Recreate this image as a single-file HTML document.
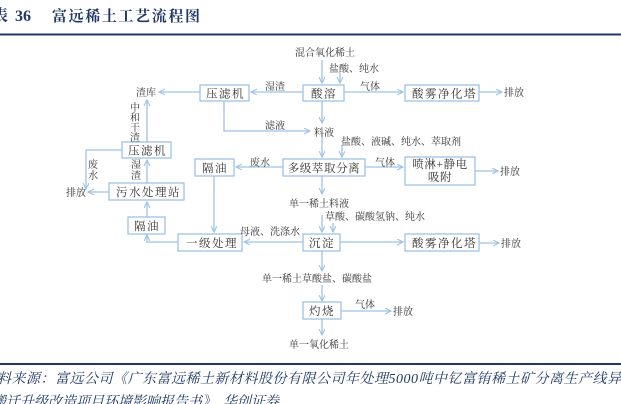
<!DOCTYPE html>
<html><head><meta charset="utf-8"><style>
html,body{margin:0;padding:0;background:#fff;}
svg{display:block;}
.t{font-family:"Liberation Serif","Noto Serif CJK SC",serif;font-size:10px;fill:#333;}
.b{font-family:"Liberation Serif","Noto Serif CJK SC",serif;font-size:11.5px;fill:#333;letter-spacing:1.5px;}
.bn{font-family:"Liberation Serif","Noto Serif CJK SC",serif;font-size:11.5px;fill:#333;letter-spacing:0.6px;}
rect{fill:#fff;stroke:#9dc3e6;stroke-width:1.3;}
.l{stroke:#9dc3e6;stroke-width:1.3;fill:none;}
</style></head><body>
<svg width="621" height="404" viewBox="0 0 621 404" xmlns="http://www.w3.org/2000/svg">
<defs><marker id="a" markerWidth="8" markerHeight="8" refX="6" refY="3" orient="auto" markerUnits="userSpaceOnUse"><path d="M0,0 L6,3 L0,6" fill="none" stroke="#9dc3e6" stroke-width="1.1"/></marker></defs>
<text x="-8" y="21" style="font-family:'Liberation Serif','Noto Serif CJK SC',serif;font-size:16px;font-weight:bold;fill:#1f3864">表</text>
<text x="15" y="21" style="font-family:'Liberation Serif',serif;font-size:16px;font-weight:bold;fill:#1f3864">36</text>
<text x="52" y="21" textLength="148" style="font-family:'Liberation Serif','Noto Serif CJK SC',serif;font-size:15px;font-weight:bold;fill:#1f3864">富远稀土工艺流程图</text>
<line x1="0" y1="34.5" x2="621" y2="34.5" stroke="#1f3864" stroke-width="2"/>
<line x1="0" y1="364" x2="621" y2="364" stroke="#1f3864" stroke-width="2"/>
<text x="-3" y="383" textLength="624" style="font-family:'Liberation Serif','Noto Serif CJK SC',serif;font-size:14px;font-style:italic;fill:#1f3864">料来源：富远公司《广东富远稀土新材料股份有限公司年处理5000吨中钇富铕稀土矿分离生产线异</text>
<text x="-8" y="406" style="font-family:'Liberation Serif','Noto Serif CJK SC',serif;font-size:14px;font-style:italic;fill:#1f3864">搬迁升级改造项目环境影响报告书》，华创证券</text>

<g class="l">
<path d="M322 60 V83" marker-end="url(#a)"/>
<path d="M340 73 V83" marker-end="url(#a)"/>
<path d="M303 92 H251" marker-end="url(#a)"/>
<path d="M200 92 H159" marker-end="url(#a)"/>
<path d="M344 92 H403" marker-end="url(#a)"/>
<path d="M479 92 H502" marker-end="url(#a)"/>
<path d="M224 101 V131 H310" marker-end="url(#a)"/>
<path d="M322 101 V123" marker-end="url(#a)"/>
<path d="M147 142 V100" marker-end="url(#a)"/>
<path d="M322 135 V157" marker-end="url(#a)"/>
<path d="M342 145 V157" marker-end="url(#a)"/>
<path d="M283 167 H236" marker-end="url(#a)"/>
<path d="M365 167 H403" marker-end="url(#a)"/>
<path d="M475 171 H498" marker-end="url(#a)"/>
<path d="M122 150 H86 V189" marker-end="url(#a)"/>
<path d="M109 192 H88" marker-end="url(#a)"/>
<path d="M147 183 V160" marker-end="url(#a)"/>
<path d="M147 217 V202" marker-end="url(#a)"/>
<path d="M178 242 H147 V235" marker-end="url(#a)"/>
<path d="M214 176 V232" marker-end="url(#a)"/>
<path d="M322 176 V194" marker-end="url(#a)"/>
<path d="M322 215 V232" marker-end="url(#a)"/>
<path d="M333 223 V232" marker-end="url(#a)"/>
<path d="M303 242 H244" marker-end="url(#a)"/>
<path d="M340 242 H403" marker-end="url(#a)"/>
<path d="M479 243 H499" marker-end="url(#a)"/>
<path d="M322 251 V271" marker-end="url(#a)"/>
<path d="M322 285 V301" marker-end="url(#a)"/>
<path d="M341 311 H391" marker-end="url(#a)"/>
<path d="M322 319 V335" marker-end="url(#a)"/>
</g>

<rect x="200" y="85" width="49" height="16"/><text class="b" x="206" y="97.5">压滤机</text>
<rect x="303" y="85" width="41" height="16"/><text class="b" x="311" y="97.5">酸溶</text>
<rect x="405" y="85" width="74" height="16"/><text class="b" x="412" y="97.5">酸雾净化塔</text>
<rect x="122" y="142" width="49" height="16"/><text class="b" x="128" y="154.5">压滤机</text>
<rect x="195" y="159" width="39" height="17"/><text class="b" x="202" y="172">隔油</text>
<rect x="283" y="159" width="82" height="17"/><text class="bn" x="324" y="172" text-anchor="middle">多级萃取分离</text>
<rect x="405" y="157" width="70" height="28"/><text class="bn" x="440" y="168" text-anchor="middle">喷淋+静电</text><text class="bn" x="440" y="181" text-anchor="middle">吸附</text>
<rect x="109" y="183" width="75" height="17"/><text class="b" x="116" y="196">污水处理站</text>
<rect x="128" y="217" width="37" height="17"/><text class="b" x="134" y="230">隔油</text>
<rect x="178" y="234" width="64" height="17"/><text class="b" x="186" y="247">一级处理</text>
<rect x="303" y="234" width="37" height="17"/><text class="b" x="309" y="247">沉淀</text>
<rect x="405" y="234" width="74" height="17"/><text class="b" x="412" y="247">酸雾净化塔</text>
<rect x="303" y="302" width="38" height="17"/><text class="b" x="309" y="315">灼烧</text>

<text class="t" x="295" y="56">混合氧化稀土</text>
<text class="t" x="329" y="72">盐酸、纯水</text>
<text class="t" x="136" y="96">渣库</text>
<text class="t" x="265" y="90">湿渣</text>
<text class="t" x="360" y="90">气体</text>
<text class="t" x="504" y="96">排放</text>
<text class="t" x="265" y="129">滤液</text>
<text class="t" x="314" y="136">料液</text>
<text class="t" x="130" y="111">中</text><text class="t" x="130" y="121">和</text><text class="t" x="130" y="131">干</text><text class="t" x="130" y="141">渣</text>
<text class="t" x="341" y="145">盐酸、液碱、纯水、萃取剂</text>
<text class="t" x="250" y="166">废水</text>
<text class="t" x="375" y="166">气体</text>
<text class="t" x="500" y="175">排放</text>
<text class="t" x="88" y="168">废</text><text class="t" x="88" y="179">水</text>
<text class="t" x="131" y="168">湿</text><text class="t" x="131" y="179">渣</text>
<text class="t" x="66" y="196">排放</text>
<text class="t" x="289" y="207">单一稀土料液</text>
<text class="t" x="325" y="220">草酸、碳酸氢钠、纯水</text>
<text class="t" x="240" y="235">母液、洗涤水</text>
<text class="t" x="501" y="247">排放</text>
<text class="t" x="262" y="282">单一稀土草酸盐、碳酸盐</text>
<text class="t" x="355" y="308">气体</text>
<text class="t" x="393" y="315">排放</text>
<text class="t" x="289" y="348">单一氧化稀土</text>
</svg>
</body></html>
